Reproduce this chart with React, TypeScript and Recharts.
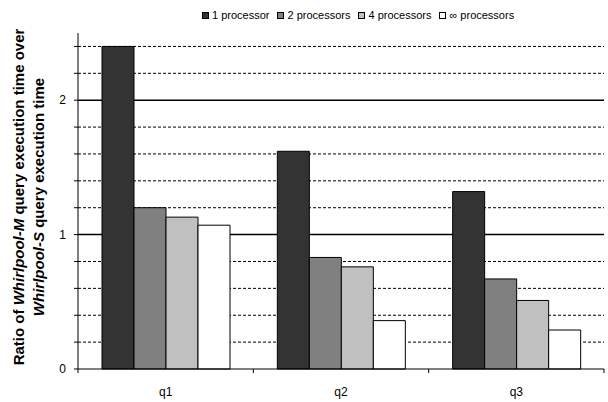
import React from "react";
import {
  BarChart,
  Bar,
  XAxis,
  YAxis,
  CartesianGrid,
  Legend,
} from "recharts";

const categories = ["q1", "q2", "q3"];
const oneProc = [2.4, 1.62, 1.32];
const twoProc = [1.2, 0.83, 0.67];
const fourProc = [1.13, 0.76, 0.51];
const infProc = [1.07, 0.36, 0.29];

const yTicks = [0, 0.2, 0.4, 0.6, 0.8, 1, 1.2, 1.4, 1.6, 1.8, 2, 2.2, 2.4];
const minorLines = [0.2, 0.4, 0.6, 0.8, 1.2, 1.4, 1.6, 1.8, 2.2, 2.4];
const majorLines = [1, 2];

const data = categories.map((name, i) => ({
  name,
  p1: oneProc[i],
  p2: twoProc[i],
  p4: fourProc[i],
  pInf: infProc[i],
}));

const W = 608;
const H = 402;
const margin = { top: 33, right: 4, bottom: 3, left: 38 };
const Y_AXIS_W = 40;
const plotW = W - margin.left - margin.right - Y_AXIS_W;
const band = plotW / categories.length;

const FONT = "Arial, 'Liberation Sans', sans-serif";

// category label in the middle, tick mark on the boundary between groups
const CategoryTick = (props: any) => {
  const { x, y, payload, index } = props;
  return (
    <g>
      {index === 0 && (
        <line x1={x - band / 2} x2={x - band / 2} y1={y} y2={y + 4} stroke="#000" />
      )}
      <line x1={x + band / 2} x2={x + band / 2} y1={y} y2={y + 4} stroke="#000" />
      <text x={x} y={y + 27} textAnchor="middle" fontSize={12} fontFamily={FONT} fill="#000">
        {payload.value}
      </text>
    </g>
  );
};

const LegendContent = (props: any) => {
  const { payload } = props;
  return (
    <div style={{ display: "flex", fontFamily: FONT, fontSize: 11, color: "#000" }}>
      {payload.map((p: any) => (
        <div key={p.value} style={{ display: "flex", alignItems: "center", marginRight: 8 }}>
          <span
            style={{
              width: 5,
              height: 5,
              background: p.color,
              border: "1px solid #000",
              marginRight: 3,
              display: "inline-block",
            }}
          />
          <span>{p.value}</span>
        </div>
      ))}
    </div>
  );
};

export default function App() {
  return (
    <div style={{ position: "absolute", left: 0, top: 0, background: "#fff" }}>
      <BarChart
        width={W}
        height={H}
        data={data}
        margin={margin}
        barCategoryGap={24}
        barGap={0}
      >
        <CartesianGrid
          vertical={false}
          horizontalValues={minorLines}
          stroke="#000"
          strokeDasharray="3 2"
        />
        <CartesianGrid
          vertical={false}
          horizontalValues={majorLines}
          stroke="#000"
          strokeWidth={1.5}
        />
        <XAxis
          dataKey="name"
          stroke="#000"
          tickLine={false}
          tickSize={0}
          tickMargin={0}
          height={30}
          tick={<CategoryTick />}
        />
        <XAxis
          xAxisId="frame"
          dataKey="name"
          orientation="top"
          height={0}
          tick={false}
          tickLine={false}
          axisLine={{ stroke: "#999" }}
        />
        <YAxis
          domain={[0, 2.5]}
          ticks={yTicks}
          interval={0}
          width={Y_AXIS_W}
          stroke="#000"
          tickSize={4}
          tickMargin={8}
          tick={{ fill: "#000", fontSize: 12, fontFamily: FONT }}
          tickFormatter={(v: number) => (Number.isInteger(v) ? String(v) : "")}
        />
        <YAxis
          yAxisId="frame"
          orientation="right"
          width={0}
          tick={false}
          tickLine={false}
          axisLine={{ stroke: "#999" }}
        />
        <Legend
          layout="horizontal"
          verticalAlign="middle"
          align="center"
          wrapperStyle={{ top: 9, left: 202, width: "auto" }}
          content={<LegendContent />}
        />
        <Bar dataKey="p1" name="1 processor" fill="#333333" stroke="#000" isAnimationActive={false} />
        <Bar dataKey="p2" name="2 processors" fill="#808080" stroke="#000" isAnimationActive={false} />
        <Bar dataKey="p4" name="4 processors" fill="#c0c0c0" stroke="#000" isAnimationActive={false} />
        <Bar dataKey="pInf" name="∞ processors" fill="#ffffff" stroke="#000" isAnimationActive={false} />
        {/* two-line rotated y-axis title */}
        <g fontFamily={FONT} fontSize={15} fontWeight="bold" fill="#000">
          <text x={18} y={197} textAnchor="middle" dominantBaseline="central" transform="rotate(-90 18 197)">
            Ratio of <tspan fontStyle="italic">Whirlpool-M</tspan> query execution time over
          </text>
          <text x={38} y={197} textAnchor="middle" dominantBaseline="central" transform="rotate(-90 38 197)">
            <tspan fontStyle="italic">Whirlpool-S</tspan> query execution time
          </text>
        </g>
      </BarChart>
    </div>
  );
}
